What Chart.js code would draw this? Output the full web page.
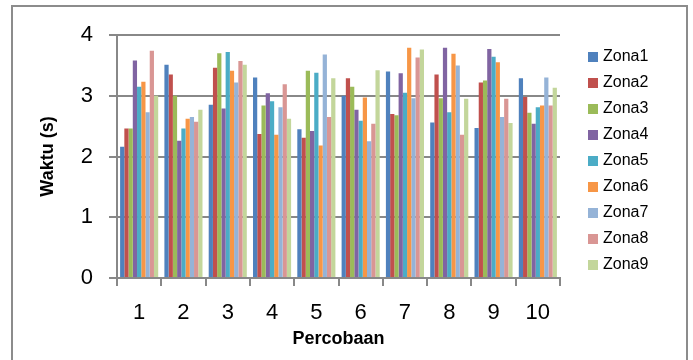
<!DOCTYPE html>
<html>
<head>
<meta charset="utf-8">
<script src="https://cdn.jsdelivr.net/npm/chart.js"></script>
<style>
  html, body { margin: 0; padding: 0; background: #fff; }
  #wrap { width: 693px; height: 360px; position: relative; }
</style>
</head>
<body>
<div id="wrap"><canvas id="zonaChart" width="693" height="360"></canvas></div>
<script>
// data
const percobaan = ["1", "2", "3", "4", "5", "6", "7", "8", "9", "10"];
const zonaNames = ["Zona1", "Zona2", "Zona3", "Zona4", "Zona5", "Zona6", "Zona7", "Zona8", "Zona9"];
const zona1 = [2.16, 3.51, 2.85, 3.30, 2.45, 3.00, 3.40, 2.56, 2.47, 3.29];
const zona2 = [2.46, 3.35, 3.46, 2.37, 2.31, 3.29, 2.70, 3.35, 3.22, 2.98];
const zona3 = [2.46, 3.00, 3.70, 2.84, 3.41, 3.15, 2.68, 2.96, 3.25, 2.72];
const zona4 = [3.58, 2.26, 2.79, 3.04, 2.42, 2.77, 3.37, 3.79, 3.77, 2.54];
const zona5 = [3.15, 2.46, 3.72, 2.91, 3.38, 2.59, 3.05, 2.73, 3.64, 2.81];
const zona6 = [3.23, 2.62, 3.41, 2.36, 2.18, 2.97, 3.79, 3.69, 3.55, 2.84];
const zona7 = [2.73, 2.65, 3.22, 2.81, 3.68, 2.25, 2.96, 3.50, 2.65, 3.30];
const zona8 = [3.74, 2.57, 3.57, 3.19, 2.65, 2.54, 3.63, 2.36, 2.95, 2.84];
const zona9 = [3.00, 2.77, 3.51, 2.62, 3.29, 3.42, 3.76, 2.95, 2.55, 3.13];
const yTicks = [0, 1, 2, 3, 4];

const seriesValues = [zona1, zona2, zona3, zona4, zona5, zona6, zona7, zona8, zona9];
const colors = ["#4F81BD", "#C0504D", "#9BBB59", "#8064A2", "#4BACC6",
                "#F79646", "#95B3D7", "#D99694", "#C3D69B"];
const gridGray = "#888888";
const font = "'Liberation Sans', Arial, sans-serif";

// outer frame like the spreadsheet chart box
const framePlugin = {
  id: "frame",
  beforeDraw(chart) {
    const c = chart.ctx;
    c.save();
    c.fillStyle = "#fff";
    c.fillRect(0, 0, chart.width, chart.height);
    c.strokeStyle = "#8c8c8c";
    c.lineWidth = 2;
    c.strokeRect(12, 6, 675, 400);
    c.restore();
  }
};

// legend drawn by hand so it sits where the reference has it
const sideLegend = {
  id: "sideLegend",
  afterDraw(chart) {
    const c = chart.ctx;
    c.save();
    c.font = "16px " + font;
    c.textBaseline = "middle";
    chart.data.datasets.forEach((ds, i) => {
      const y = 57 + i * 26;
      c.fillStyle = ds.backgroundColor;
      c.fillRect(588, y - 5, 10, 10);
      c.fillStyle = "#000";
      c.fillText(ds.label, 603, y);
    });
    c.restore();
  }
};

const ctx = document.getElementById("zonaChart").getContext("2d");
new Chart(ctx, {
  type: "bar",
  data: {
    labels: percobaan,
    datasets: zonaNames.map((name, i) => ({
      label: name,
      data: seriesValues[i],
      backgroundColor: colors[i],
      borderWidth: 0,
      categoryPercentage: 0.86,
      barPercentage: 1.0
    }))
  },
  options: {
    responsive: false,
    animation: false,
    layout: { padding: { left: 13, top: 35, right: 133, bottom: 0 } },
    plugins: {
      legend: { display: false },
      tooltip: { enabled: false }
    },
    scales: {
      x: {
        afterFit(scale) { scale.height = 82; },
        grid: {
          offset: true,
          drawOnChartArea: false,
          drawTicks: true,
          tickLength: 8,
          color: gridGray,
          lineWidth: 2
        },
        border: { color: gridGray, width: 2 },
        ticks: { color: "#000", font: { family: font, size: 22 }, padding: 14, maxRotation: 0 },
        title: {
          display: true,
          text: "Percobaan",
          color: "#000",
          font: { family: font, size: 18, weight: "bold" },
          padding: { top: 0, bottom: 10 }
        }
      },
      y: {
        min: 0,
        max: 4,
        afterFit(scale) { scale.width = 104; },
        afterBuildTicks(scale) { scale.ticks = yTicks.map(v => ({ value: v })); },
        grid: {
          color: gridGray,
          lineWidth: 2,
          drawTicks: true,
          tickLength: 8
        },
        border: { color: gridGray, width: 2 },
        ticks: { color: "#000", font: { family: font, size: 22 }, padding: 16 },
        title: {
          display: true,
          text: "Waktu (s)",
          color: "#000",
          font: { family: font, size: 18, weight: "bold" },
          padding: { top: 24, bottom: 0 }
        }
      }
    }
  },
  plugins: [framePlugin, sideLegend]
});
</script>
</body>
</html>
